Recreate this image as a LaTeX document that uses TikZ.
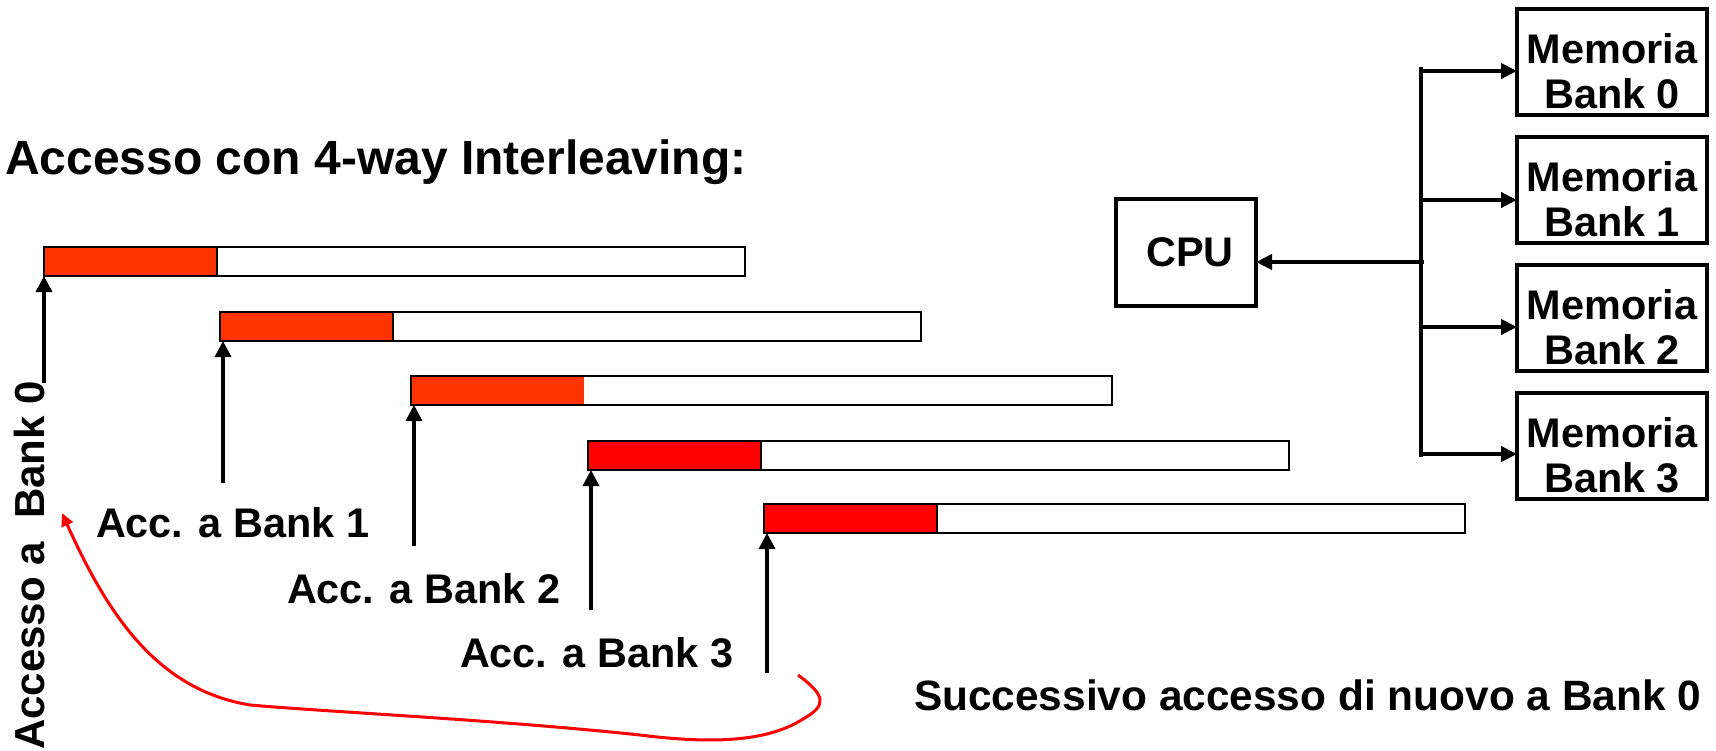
\documentclass[tikz,border=0pt]{standalone}
\usepackage{fontspec}
\setmainfont{Liberation Sans}
\usetikzlibrary{arrows.meta}
\definecolor{barA}{HTML}{FF3300}
\definecolor{barB}{HTML}{FF0000}
\begin{document}
\begin{tikzpicture}[x=0.5pt,y=-0.5pt,
  txt/.style={font=\fontsize{20.7pt}{22.5pt}\selectfont\bfseries, inner sep=0pt, outer sep=0pt},
  barbox/.style={draw=black, line width=1pt, fill=none, minimum width=350.5pt, minimum height=14.5pt, anchor=north west, inner sep=0pt, outer sep=0pt},
  redpart/.style={fill=#1, draw=black, line width=1pt, minimum width=86.5pt, minimum height=14.5pt, anchor=north west, inner sep=0pt, outer sep=0pt},
  redplain/.style={fill=#1, minimum width=86.5pt, minimum height=14.5pt, anchor=north west, inner sep=0pt, outer sep=0pt},
  membox/.style={draw=black, line width=2.2pt, minimum width=95pt, minimum height=53pt, anchor=north west, inner sep=0pt, outer sep=0pt},
  upar/.style={line width=1.8pt, -{Triangle[length=8pt,width=8pt]}},
  busar/.style={line width=2pt, -{Triangle[length=8pt,width=7.5pt]}},
  curvear/.style={draw=barB, line width=1.5pt, -{Triangle[length=6.5pt,width=6pt]}}
]
\useasboundingbox (0,0) rectangle (1716,750);

% title
\node[txt, font=\fontsize{24pt}{28pt}\selectfont\bfseries, anchor=west] (title) at (5,162) {Accesso con 4-way Interleaving:};

% red parts
\node[redpart=barA] (r0) at (44,247) {};
\node[redpart=barA] (r1) at (220,312) {};
\node[redplain=barA] (r2) at (411,376) {};
\node[redpart=barB] (r3) at (588,441) {};
\node[redpart=barB] (r4) at (764,504) {};
% bars
\node[barbox] (b0) at (44,247) {};
\node[barbox] (b1) at (220,312) {};
\node[barbox] (b2) at (411,376) {};
\node[barbox] (b3) at (588,441) {};
\node[barbox] (b4) at (764,504) {};

% vertical label
\node[txt, font=\fontsize{21pt}{22pt}\selectfont\bfseries, rotate=90, anchor=base east] (v0) at (44,381) {Accesso a\ \ Bank 0};
\coordinate (a0) at (44,383);
\draw[upar] (a0) -- (a0 |- b0.south);

% labels
\node[txt, anchor=west] (l1) at (96,523) {Acc. a Bank 1};
\node[txt, anchor=west] (l2) at (287,589) {Acc. a Bank 2};
\node[txt, anchor=west] (l3) at (460,653) {Acc. a Bank 3};
\node[txt, font=\fontsize{21.2pt}{24pt}\selectfont\bfseries, anchor=west] (l4) at (914,695) {Successivo accesso di nuovo a Bank 0};

\coordinate (a1) at (223,483);
\coordinate (a2) at (414,546);
\coordinate (a3) at (591,610);
\coordinate (a4) at (767,673);
\draw[upar] (a1) -- (a1 |- b1.south);
\draw[upar] (a2) -- (a2 |- b2.south);
\draw[upar] (a3) -- (a3 |- b3.south);
\draw[upar] (a4) -- (a4 |- b4.south);

% red return curve
\coordinate (cs) at (798,675);
\coordinate (ce) at (62,513);
\draw[curvear] (cs) .. controls (825,695) and (828,705) .. (803,719)
  .. controls (770,740) and (720,745) .. (640,735)
  .. controls (500,720) and (330,712) .. (250,705)
  .. controls (160,690) and (110,620) .. (ce);

% CPU and memory
\node[membox, minimum width=70pt, minimum height=53.5pt] (cpu) at (1116,199) {};
\node[txt] at ([xshift=2pt]cpu.center) {CPU};

\node[membox] (m0) at (1517,9) {};
\node[membox] (m1) at (1517,137) {};
\node[membox] (m2) at (1517,265) {};
\node[membox] (m3) at (1517,393) {};
\foreach \i in {0,1,2,3}{
  \node[txt, align=center] at ([yshift=-4.5pt]m\i.center) {Memoria\\Bank \i};
}

\coordinate (bt) at (1421,67);
\coordinate (bb) at (1421,457);
\draw[line width=2pt] (bt) -- (bb);
\coordinate (p0) at (1421,71);
\coordinate (p1) at (1421,200);
\coordinate (p2) at (1421,327);
\coordinate (p3) at (1421,454);
\draw[busar] (p0) -- (p0 -| m0.west);
\draw[busar] (p1) -- (p1 -| m1.west);
\draw[busar] (p2) -- (p2 -| m2.west);
\draw[busar] (p3) -- (p3 -| m3.west);
\coordinate (pc) at (1424,262);
\draw[busar] (pc) -- (pc -| cpu.east);
\end{tikzpicture}
\end{document}
